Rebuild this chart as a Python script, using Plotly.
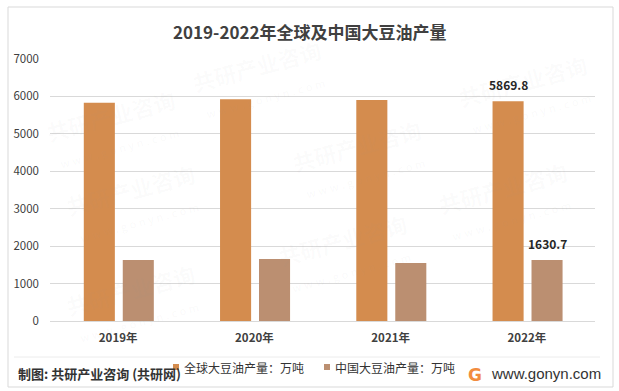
import plotly.graph_objects as go

categories = ["2019年", "2020年", "2021年", "2022年"]
global_vals = [5830, 5925, 5905, 5869.8]
china_vals = [1630, 1655, 1550, 1630.7]
series_names = ["全球大豆油产量：万吨", "中国大豆油产量：万吨"]
y_ticks = [0, 1000, 2000, 3000, 4000, 5000, 6000, 7000]

C_GLOBAL = "#D48C4E"
C_CHINA = "#BB8F71"
FONT = "Noto Sans CJK SC"

W, H = 619, 391
L, R, T, B = 50, 24, 59, 70
PW, PH = W - L - R, H - T - B


def px(x):
    return (x - L) / PW


def py(y):
    return (H - B - y) / PH


fig = go.Figure()
fig.add_trace(go.Bar(x=categories, y=global_vals, name=series_names[0],
                     marker=dict(color=C_GLOBAL, line=dict(width=0)),
                     width=0.228, offset=-0.252, showlegend=False))
fig.add_trace(go.Bar(x=categories, y=china_vals, name=series_names[1],
                     marker=dict(color=C_CHINA, line=dict(width=0)),
                     width=0.228, offset=0.034, showlegend=False))

annotations = []
# watermarks (very faint)
wm = [(260, 30), (600, 45), (40, 80), (360, 110), (580, 200), (60, 250),
      (420, 300), (60, 350)]
for (wx, wy) in wm:
    annotations.append(dict(x=px(wx), y=py(wy), xref="paper", yref="paper",
                            text="共研产业咨询<br><span style='font-size:11px'>w w w . g o n y n . c o m</span>",
                            showarrow=False, textangle=-15,
                            font=dict(family=FONT, size=22, color="rgba(150,150,150,0.035)", weight="bold")))

# data labels for last category
annotations.append(dict(x=3 - 0.252 + 0.114, y=global_vals[3], xref="x", yref="y",
                        text=f"{global_vals[3]:.1f}", showarrow=False, yanchor="bottom",
                        yshift=6, font=dict(family=FONT, size=12, color="#262626", weight="bold")))
annotations.append(dict(x=3 + 0.034 + 0.114, y=china_vals[3], xref="x", yref="y",
                        text=f"{china_vals[3]:.1f}", showarrow=False, yanchor="bottom",
                        yshift=6, font=dict(family=FONT, size=12, color="#262626", weight="bold")))

# title
annotations.append(dict(x=px(W / 2), y=py(31), xref="paper", yref="paper",
                        text="2019-2022年全球及中国大豆油产量", showarrow=False,
                        xanchor="center", yanchor="middle",
                        font=dict(family=FONT, size=17, color="#404040", weight="bold")))
# legend (manual)
leg = [(173, 182, series_names[0], C_GLOBAL), (324, 333, series_names[1], C_CHINA)]
shapes = []
for (sx, tx, name, col) in leg:
    shapes.append(dict(type="rect", xref="paper", yref="paper",
                       x0=px(sx), x1=px(sx + 6), y0=py(370), y1=py(364),
                       fillcolor=col, line=dict(width=0)))
    annotations.append(dict(x=px(tx), y=py(367), xref="paper", yref="paper", text=name,
                            showarrow=False, xanchor="left", yanchor="middle",
                            font=dict(family=FONT, size=12, color="#333333")))
# footer
annotations.append(dict(x=px(16), y=py(373), xref="paper", yref="paper",
                        text="制图: 共研产业咨询 (共研网)", showarrow=False,
                        xanchor="left", yanchor="middle",
                        font=dict(family=FONT, size=13, color="#333333", weight="bold")))
annotations.append(dict(x=px(475), y=py(375), xref="paper", yref="paper",
                        text="G", showarrow=False, xanchor="center", yanchor="middle",
                        font=dict(family="DejaVu Sans", size=17, color="#F28C3F", weight="bold")))
annotations.append(dict(x=px(489), y=py(373), xref="paper", yref="paper",
                        text="www.gonyn.com", showarrow=False,
                        xanchor="left", yanchor="middle",
                        font=dict(family="Liberation Sans", size=15, color="#333333")))

# border and separator
shapes.append(dict(type="rect", xref="paper", yref="paper",
                   x0=px(8), x1=px(613), y0=py(387), y1=py(7),
                   line=dict(color="#d9d9d9", width=1), fillcolor="rgba(0,0,0,0)", layer="below"))
shapes.append(dict(type="line", xref="paper", yref="paper",
                   x0=px(14), x1=px(600), y0=py(357), y1=py(357),
                   line=dict(color="#ececec", width=1)))

fig.update_layout(
    width=W, height=H,
    margin=dict(l=L, r=R, t=T, b=B, pad=0),
    paper_bgcolor="white", plot_bgcolor="white",
    barmode="overlay",
    annotations=annotations, shapes=shapes,
    xaxis=dict(type="category", showgrid=False, showline=False, zeroline=False,
               ticks="", tickfont=dict(family=FONT, size=11.5, color="#404040", weight="bold"),
               ticklabelstandoff=8),
    yaxis=dict(range=[0, 7000], tickvals=y_ticks, showgrid=True, gridcolor="#d9d9d9",
               gridwidth=1, zeroline=True, zerolinecolor="#d9d9d9", zerolinewidth=1,
               showline=False, ticks="",
               tickfont=dict(family=FONT, size=11.5, color="#404040"),
               ticklabelstandoff=10),
)

fig.write_html("out.html", config={"displayModeBar": False},
               post_script="document.body.style.margin='0';document.body.style.overflow='hidden';")
